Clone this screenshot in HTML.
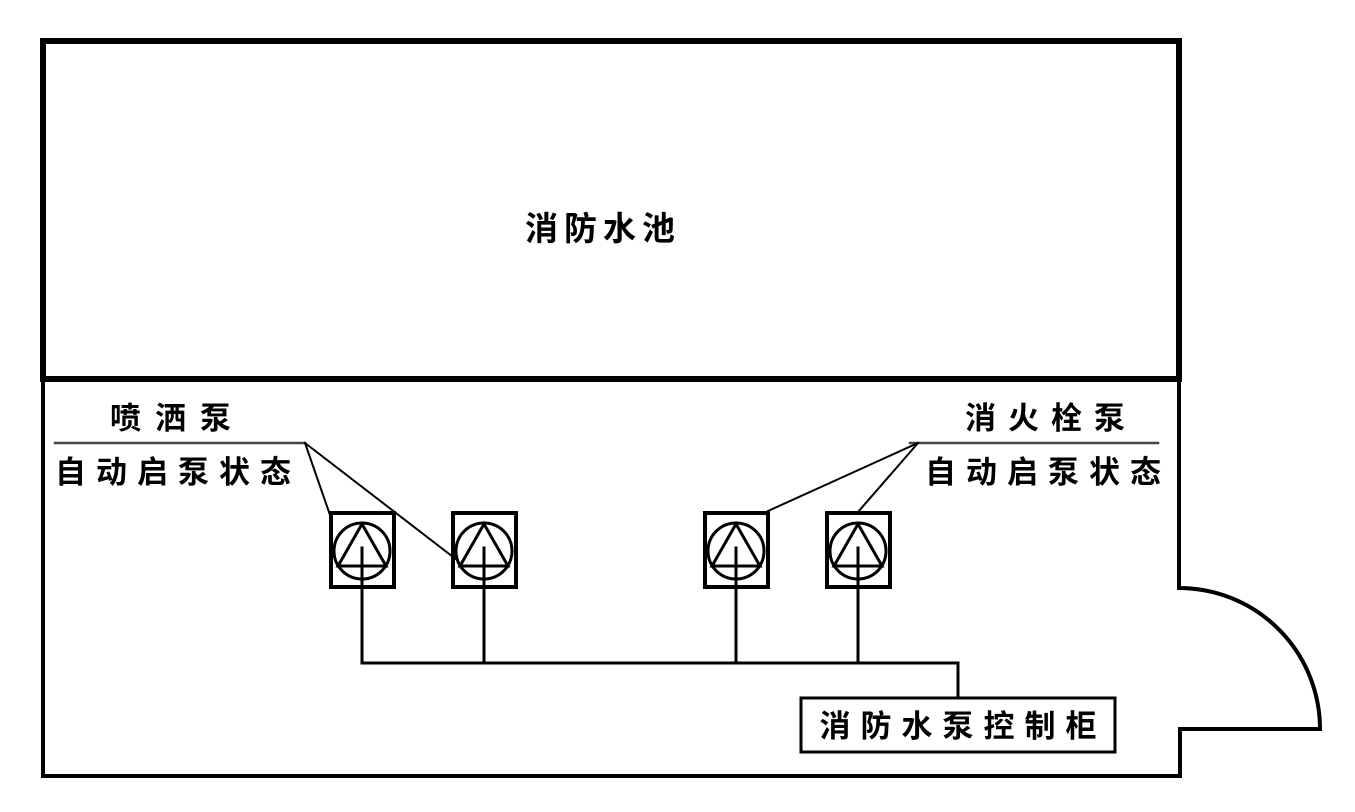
<!DOCTYPE html>
<html><head><meta charset="utf-8"><style>
html,body{margin:0;padding:0;background:#fff;}
svg{display:block}
text{font-family:"Liberation Sans","Noto Sans CJK SC","WenQuanYi Zen Hei",sans-serif;font-weight:bold;fill:#000}
</style></head><body>
<svg width="1355" height="812" viewBox="0 0 1355 812" xmlns="http://www.w3.org/2000/svg">
<g fill="none" stroke="#000" stroke-linecap="square">
<rect x="43" y="41" width="1136" height="338" stroke-width="6"/>
<path d="M1179 379 V588" stroke-width="4"/>
<path d="M1179 588 A141 141 0 0 1 1320 729 H1180 V776 H43 V379" stroke-width="4"/>
<path d="M55 443 H305" stroke-width="2.5" stroke="#444"/>
<path d="M305 443 L330 515 M305 443 L457 560" stroke-width="2"/>
<path d="M910 443 H1158" stroke-width="2.5" stroke="#444"/>
<path d="M918 443 L768 511 M918 443 L858 512" stroke-width="2"/>
<g stroke-width="4">
<rect x="331" y="513" width="63" height="74"/>
<rect x="453" y="513" width="63" height="74"/>
<rect x="705" y="513" width="63" height="74"/>
<rect x="827" y="513" width="63" height="74"/>
</g>
<g stroke-width="3">
<circle cx="362" cy="551" r="28"/><path d="M362 524 L338 566 H386 Z"/>
<circle cx="484" cy="551" r="28"/><path d="M484 524 L460 566 H508 Z"/>
<circle cx="736" cy="551" r="28"/><path d="M736 524 L712 566 H760 Z"/>
<circle cx="858" cy="551" r="28"/><path d="M858 524 L834 566 H882 Z"/>
</g>
<g stroke-width="3">
<path d="M362 548 V663 M484 548 V663 M736 548 V663 M858 548 V663"/>
<path d="M362 663 H958 V698"/>
</g>
<rect x="801" y="698" width="314" height="54" stroke-width="3"/>
</g>
<text x="603" y="240" font-size="33" text-anchor="middle" letter-spacing="6">消防水池</text>
<text x="110" y="429" font-size="31" letter-spacing="14">喷洒泵</text>
<text x="55" y="483" font-size="31" letter-spacing="10">自动启泵状态</text>
<text x="965" y="429" font-size="31" letter-spacing="12">消火栓泵</text>
<text x="925" y="483" font-size="31" letter-spacing="10">自动启泵状态</text>
<text x="963" y="737" font-size="31" text-anchor="middle" letter-spacing="10">消防水泵控制柜</text>
</svg>
</body></html>
